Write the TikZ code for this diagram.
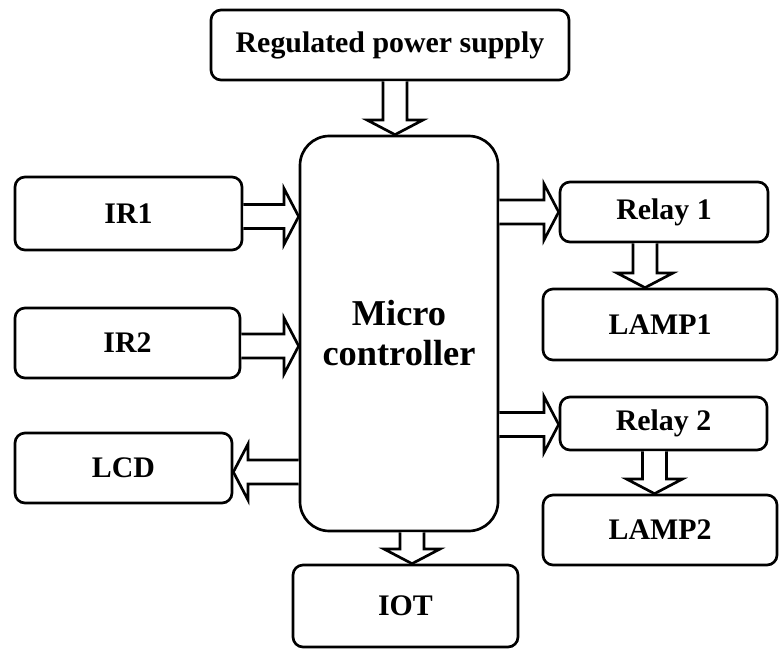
\documentclass[tikz,border=0pt]{standalone}
\usepackage{fontspec}
\setmainfont{Liberation Serif}
\usetikzlibrary{calc}

% hollow block arrow from #1 to #2
\newcommand{\busarrow}[2]{%
  \path (#1) coordinate (bus-s) (#2) coordinate (bus-e);
  \path ($(bus-e)!11pt!(bus-s)$) coordinate (bus-h);
  \draw[bus] ($(bus-s)!9pt!90:(bus-e)$) -- ($(bus-h)!9pt!-90:(bus-s)$)
    -- ($(bus-h)!21pt!-90:(bus-s)$) -- (bus-e)
    -- ($(bus-h)!21pt!90:(bus-s)$) -- ($(bus-h)!9pt!90:(bus-s)$)
    -- ($(bus-s)!9pt!-90:(bus-e)$);
}

\begin{document}
\begin{tikzpicture}[
  x=0.75pt,y=-0.75pt,
  blk/.style={draw,line width=2pt,rounded corners=7.5pt,align=center,
    font=\fontsize{22.4}{26}\selectfont\bfseries,inner sep=0pt},
  bus/.style={line width=2pt,fill=white}
]
  \useasboundingbox (0,0) rectangle (784,649);

  \node[blk,minimum width=268.5pt,minimum height=52.5pt] (psu) at (390,45) {Regulated power supply};
  \node[blk,minimum width=148.5pt,minimum height=296.25pt,rounded corners=22pt,
    font=\fontsize{27.3}{30}\selectfont\bfseries] (mc) at (399,333.5) {Micro\\controller};
  \node[blk,minimum width=170.25pt,minimum height=54.75pt] (ir1) at (128.5,213.5) {IR1};
  \node[blk,minimum width=168.75pt,minimum height=52.5pt] (ir2) at (127.5,343) {IR2};
  \node[blk,minimum width=162.75pt,minimum height=52.5pt] (lcd) at (123.5,468) {LCD};
  \node[blk,minimum width=156pt,minimum height=45pt] (relay1) at (664,212) {Relay 1};
  \node[blk,minimum width=175.5pt,minimum height=53.25pt] (lamp1) at (660,324.5) {LAMP1};
  \node[blk,minimum width=155.25pt,minimum height=39.75pt] (relay2) at (663.5,423.5) {Relay 2};
  \node[blk,minimum width=175.5pt,minimum height=52.5pt] (lamp2) at (660,530) {LAMP2};
  \node[blk,minimum width=168.75pt,minimum height=61.5pt] (iot) at (405.5,606) {IOT};

  \busarrow{$(psu.south)+(5,0)$}{$(psu.south |- mc.north)+(5,0)$}
  \busarrow{$(ir1.east)+(0,3)$}{$(ir1.east -| mc.west)+(0,3)$}
  \busarrow{$(ir2.east)+(0,3)$}{$(ir2.east -| mc.west)+(0,3)$}
  \busarrow{$(lcd.east -| mc.west)+(0,4)$}{$(lcd.east)+(0,4)$}
  \busarrow{relay1.west -| mc.east}{relay1.west}
  \busarrow{$(relay2.west -| mc.east)+(0,1)$}{$(relay2.west)+(0,1)$}
  \busarrow{$(relay1.south)+(-19,0)$}{$(relay1.south |- lamp1.north)+(-19,0)$}
  \busarrow{$(relay2.south)+(-9,0)$}{$(relay2.south |- lamp2.north)+(-9,0)$}
  \busarrow{$(mc.south)+(13,0)$}{$(mc.south |- iot.north)+(13,0)$}
\end{tikzpicture}
\end{document}
